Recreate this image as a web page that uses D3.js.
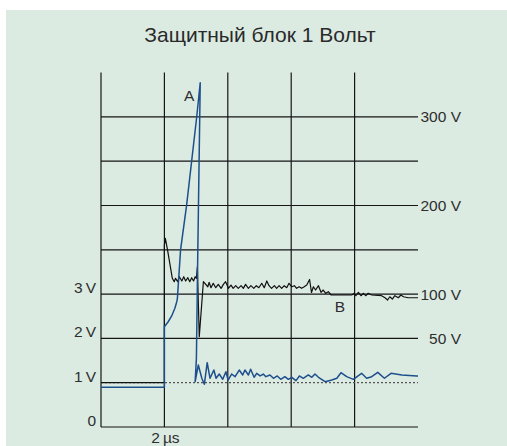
<!DOCTYPE html>
<html>
<head>
<meta charset="utf-8">
<script src="https://cdn.jsdelivr.net/npm/d3@7"></script>
<style>
  html, body { margin: 0; padding: 0; background: #ffffff; }
  svg { display: block; font-family: "Liberation Sans", Arial, sans-serif; }
</style>
</head>
<body>
<svg id="chart" width="507" height="446"></svg>
<script>
// Oscilloscope capture: input surge (A) and clamped output (B)
const title = "Защитный блок 1 Вольт";

// time in µs
const timeDomain = [0, 10];
const timeGrid = [0, 2, 4, 6, 8];
const timeTickLabels = [{ t: 2, label: "2\u2009µs" }];

// left scale (low-voltage side), volts
const leftDomain = [0, 8];
const leftGrid = [2, 3, 4, 5, 6, 7];
const leftTickLabels = [
  { v: 0, label: "0" },
  { v: 1, label: "1\u2009V" },
  { v: 2, label: "2\u2009V" },
  { v: 3, label: "3\u2009V" }
];

// right scale (surge side), volts
const rightDomain = [-50, 350];
const rightTickLabels = [
  { v: 50, label: "50 V" },
  { v: 100, label: "100 V" },
  { v: 200, label: "200 V" },
  { v: 300, label: "300 V" }
];

// trace A: unprotected surge (µs, V)
const traceA_t = [0, 1.97, 2.0, 2.0, 2.12, 2.23, 2.33, 2.39, 2.41, 2.51, 2.70, 2.86, 3.02, 3.13,
  3.05, 3.01, 2.97, 3.07, 3.18, 3.26, 3.35, 3.44, 3.56, 3.63, 3.73, 3.84, 3.94, 4.01, 4.12, 4.23,
  4.36, 4.47, 4.54, 4.65, 4.72, 4.83, 4.91, 5.02, 5.12, 5.20, 5.33, 5.44, 5.56, 5.67, 5.80, 5.91,
  6.02, 6.15, 6.26, 6.38, 6.54, 6.65, 6.75, 6.86, 7.07, 7.28, 7.44, 7.57, 7.75, 7.96, 8.22, 8.38,
  8.54, 8.73, 8.94, 9.15, 9.49, 9.96, 10.0];
const traceA_v = [-5.2, -5.2, -5.2, 63.2, 68.8, 75.3, 84.0, 91.4, 95.2, 150, 200.2, 250.2, 300.2, 338.5,
  138.5, 27.9, 1.1, 20.0, 5.0, -1.8, 22.6, 5.0, 14.3, 5.0, 9.8, 3.8, 12.4, 3.0, 9.8, 6.8,
  14.3, 8.7, 14.3, 8.7, 15.1, 6.1, 10.6, 7.6, 9.8, 6.8, 8.7, 5.0, 7.6, 3.8, 6.8, 3.8,
  6.1, 2.3, 7.6, 5.0, 8.7, 6.1, 9.8, 6.1, 1.1, 3.0, 5.0, 11.3, 6.8, 3.8, 10.6, 5.0,
  6.8, 11.7, 5.0, 10.6, 8.7, 7.6, 7.6];

// trace B: protected output (µs, V)
const traceB_t = [0, 2.0, 2.0, 2.03, 2.10, 2.25, 2.31, 2.35, 2.42, 2.47, 2.55, 2.61, 2.67, 2.74, 2.80,
  2.86, 2.92, 2.97, 3.01, 3.04, 3.10, 3.23, 3.37, 3.41, 3.47, 3.54, 3.62, 3.70, 3.79, 3.86, 3.93,
  4.02, 4.10, 4.17, 4.25, 4.33, 4.42, 4.49, 4.56, 4.65, 4.73, 4.82, 4.90, 4.98, 5.07, 5.15, 5.23,
  5.30, 5.38, 5.47, 5.54, 5.62, 5.70, 5.78, 5.86, 5.93, 6.02, 6.10, 6.17, 6.25, 6.33, 6.41, 6.49,
  6.58, 6.64, 6.70, 6.77, 6.86, 6.94, 7.01, 7.09, 7.17, 7.26, 7.91, 7.99, 8.04, 8.12, 8.20, 8.28,
  8.35, 8.43, 8.54, 8.85, 8.96, 9.04, 9.11, 9.19, 9.27, 9.38, 9.46, 9.54, 9.69, 10.0];
const traceB_v = [0, 0, 155.4, 162.9, 149.7, 117.8, 114.0, 117.8, 114.0, 119.6, 114.8, 119.6, 114.8, 118.5, 114.0,
  118.5, 114.8, 119.6, 117.8, 130.9, 51.9, 114.0, 108.3, 113.3, 107.2, 112.2, 107.2, 111.0, 106.5, 111.0, 114.0,
  106.5, 110.2, 106.5, 109.5, 106.5, 109.5, 106.5, 111.0, 106.5, 109.5, 106.5, 109.5, 107.2, 112.2, 107.2, 114.8,
  109.5, 106.5, 109.5, 106.5, 109.5, 106.5, 109.5, 107.2, 112.2, 108.3, 109.5, 106.5, 108.3, 106.5, 108.3, 110.2,
  116.5, 101.8, 108.3, 104.6, 109.5, 102.0, 104.6, 100.9, 102.7, 99.0, 99.0, 100.9, 98.2, 102.0, 98.2, 100.9,
  98.2, 100.9, 99.0, 98.2, 95.9, 93.3, 97.0, 94.4, 98.2, 95.9, 99.0, 97.0, 95.9, 95.9];

const traceLabels = [
  { name: "A", t: 2.78, v: 318 },
  { name: "B", t: 7.54, v: 80 }
];

const svg = d3.select("#chart");
const W = 507, H = 446;

svg.append("rect").attr("x", 6).attr("y", 10).attr("width", W - 6).attr("height", H - 10)
  .attr("fill", "#dcebe2");

svg.append("text").attr("x", 260).attr("y", 41.5).attr("text-anchor", "middle")
  .attr("font-size", 21).attr("fill", "#2a2a2a").text(title);

const x = d3.scaleLinear().domain(timeDomain).range([101, 418]);
const yL = d3.scaleLinear().domain(leftDomain).range([427, 72.6]);
const yR = d3.scaleLinear().domain(rightDomain).range([427, 72.6]);

const grid = svg.append("g").attr("stroke", "#151515").attr("stroke-width", 1.2).attr("fill", "none");
grid.selectAll("line.v").data(timeGrid).join("line").attr("class", "v")
  .attr("x1", d => x(d)).attr("x2", d => x(d))
  .attr("y1", yL(leftDomain[1])).attr("y2", yL(0));
grid.selectAll("line.h").data(leftGrid).join("line").attr("class", "h")
  .attr("x1", x(timeDomain[0])).attr("x2", x(timeDomain[1]))
  .attr("y1", d => yL(d)).attr("y2", d => yL(d));
grid.append("line")
  .attr("x1", x(timeDomain[0])).attr("x2", x(timeDomain[1]))
  .attr("y1", yL(0)).attr("y2", yL(0));

// zero reference of the surge scale
svg.append("line")
  .attr("x1", x(timeDomain[0])).attr("x2", x(timeDomain[1]))
  .attr("y1", yR(0)).attr("y2", yR(0))
  .attr("stroke", "#555").attr("stroke-width", 1.2).attr("stroke-dasharray", "2,2");

// axis labels
const labelSize = 15.5, labelColor = "#2e2e2e";
svg.append("g").attr("font-size", labelSize).attr("fill", labelColor).attr("text-anchor", "end")
  .selectAll("text").data(leftTickLabels).join("text")
  .attr("x", 96).attr("y", d => yL(d.v) - 1).text(d => d.label);

svg.append("g").attr("font-size", labelSize).attr("fill", labelColor).attr("text-anchor", "end")
  .selectAll("text").data(rightTickLabels).join("text")
  .attr("x", 461).attr("y", d => yR(d.v)).attr("dy", "0.36em").text(d => d.label);

svg.append("g").attr("font-size", labelSize).attr("fill", labelColor).attr("text-anchor", "middle")
  .selectAll("text").data(timeTickLabels).join("text")
  .attr("x", d => x(d.t) + 1).attr("y", 442.5).text(d => d.label);

// traces
const line = d3.line().x(d => x(d[0])).y(d => yR(d[1]));
svg.append("path").datum(d3.zip(traceB_t, traceB_v)).attr("d", line)
  .attr("fill", "none").attr("stroke", "#111").attr("stroke-width", 1.2).attr("stroke-linejoin", "round");
svg.append("path").datum(d3.zip(traceA_t, traceA_v)).attr("d", line)
  .attr("fill", "none").attr("stroke", "#1d4f8c").attr("stroke-width", 1.5).attr("stroke-linejoin", "round");

svg.append("g").attr("font-size", labelSize).attr("fill", labelColor).attr("text-anchor", "middle")
  .selectAll("text").data(traceLabels).join("text")
  .attr("x", d => x(d.t)).attr("y", d => yR(d.v)).text(d => d.name);
</script>
</body>
</html>
